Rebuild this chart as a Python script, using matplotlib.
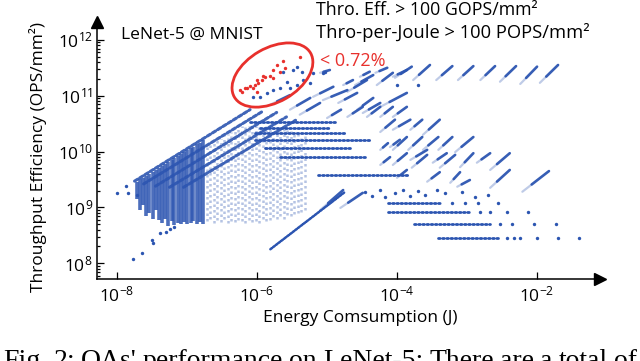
#!/usr/bin/python3
## LeNet-5 @ MNIST : throughput efficiency vs energy of the design points

import matplotlib
matplotlib.use('Agg')
import matplotlib.pyplot as plt
from matplotlib.patches import Ellipse
from matplotlib.transforms import ScaledTranslation

# all values are log10 : energy (J) on x, throughput eff. (OPS/mm2) on y

# dense left cluster, vertical runs of points (x, top, bottom)
darkColX = [-7.72, -7.67, -7.63, -7.58, -7.54, -7.49, -7.45, -7.40, -7.36, -7.31, -7.27,
            -7.22, -7.18, -7.13, -7.09, -7.04, -7.00, -6.95, -6.91, -6.86, -6.82, -6.77]
darkColTop = [9.46, 9.50, 9.53, 9.57, 9.60, 9.64, 9.67, 9.71, 9.74, 9.78, 9.81,
              9.85, 9.88, 9.92, 9.95, 9.99, 10.02, 10.06, 10.09, 10.13, 10.16, 10.20]
darkColBot = [9.15, 8.95, 9.05, 8.85, 8.90, 8.80, 8.95, 8.78, 8.72, 8.80, 8.66,
              8.75, 8.68, 8.72, 8.70, 8.74, 8.70, 8.72, 8.75, 8.70, 8.73, 8.70]

lightColX = [-6.72, -6.67, -6.62, -6.57, -6.52, -6.47, -6.42, -6.37, -6.32, -6.27,
             -6.22, -6.17, -6.12, -6.07, -6.02, -5.97, -5.92, -5.87, -5.82, -5.77,
             -5.72, -5.67, -5.62, -5.57, -5.52, -5.47, -5.42, -5.37, -5.32]
lightColTop = [10.08, 10.12, 10.16, 10.20, 10.23, 10.27, 10.31, 10.35, 10.39, 10.43,
               10.45, 10.45, 10.45, 10.45, 10.45, 10.45, 10.45, 10.45, 10.45, 10.45,
               10.42, 10.40, 10.40, 10.38, 10.36, 10.35, 10.33, 10.30, 10.28]
lightColBot = [8.75, 8.80, 8.72, 8.78, 8.74, 8.80, 8.72, 8.76, 8.73, 8.78,
               8.75, 8.72, 8.78, 8.74, 8.76, 8.72, 8.80, 8.75, 8.78, 8.82,
               8.80, 8.84, 8.80, 8.86, 8.84, 8.88, 8.90, 8.92, 8.95]

# upper edge of the cloud (x0, y0, x1, y1)
edgeLines = [(-7.75, 9.47, -6.10, 10.75),
             (-7.62, 9.42, -5.92, 10.72),
             (-7.45, 9.38, -5.72, 10.70),
             (-7.25, 9.36, -5.58, 10.62),
             (-7.05, 9.36, -5.45, 10.56)]

# diagonal streaks (x0, y0, x1, y1)
streaks = [
    # top band
    (-4.03, 11.32, -3.79, 11.52), (-3.77, 11.28, -3.53, 11.55), (-3.44, 11.28, -3.21, 11.53),
    (-3.13, 11.28, -2.91, 11.53), (-2.81, 11.28, -2.60, 11.53), (-2.53, 11.25, -2.30, 11.53),
    (-2.24, 11.21, -2.00, 11.52), (-1.96, 11.23, -1.70, 11.55),
    # middle, near the red ellipse
    (-5.20, 10.98, -4.91, 11.16), (-5.06, 10.92, -4.71, 11.10), (-4.84, 10.87, -4.57, 11.05),
    (-4.57, 10.75, -4.34, 10.96), (-4.49, 10.69, -4.24, 10.87), (-4.24, 10.80, -3.86, 11.05),
    (-4.71, 11.07, -4.43, 11.28), (-4.60, 11.19, -4.34, 11.37), (-4.29, 11.19, -4.06, 11.41),
    (-4.06, 11.34, -3.86, 11.46), (-4.77, 11.19, -4.63, 11.28), (-4.53, 11.34, -4.39, 11.43),
    (-5.10, 11.41, -4.96, 11.46), (-4.31, 11.41, -4.14, 11.50),
    (-4.71, 10.62, -4.49, 10.80), (-4.43, 10.62, -4.24, 10.80), (-4.24, 10.62, -4.06, 10.80),
    (-4.06, 10.62, -3.86, 10.80),
    (-5.53, 10.75, -5.24, 10.96), (-5.39, 10.66, -5.10, 10.87), (-5.81, 10.84, -5.53, 11.01),
    (-5.00, 10.60, -4.80, 10.75),
    # band around 10^10.4
    (-4.24, 10.35, -4.03, 10.57), (-4.06, 10.39, -3.81, 10.57), (-3.81, 10.39, -3.64, 10.57),
    (-3.63, 10.30, -3.39, 10.57),
    # band around 10^10.1
    (-4.24, 10.03, -4.13, 10.15), (-4.06, 10.03, -3.86, 10.26), (-3.84, 10.03, -3.64, 10.26),
    (-3.63, 10.03, -3.41, 10.26), (-3.41, 10.03, -3.21, 10.26), (-3.17, 9.99, -2.91, 10.26),
    (-4.10, 10.08, -3.96, 10.21),
    # band around 10^9.85
    (-4.24, 9.76, -4.10, 9.90), (-4.06, 9.76, -3.86, 9.97), (-3.79, 9.71, -3.57, 9.94),
    (-3.49, 9.80, -3.29, 9.97), (-3.39, 9.71, -3.17, 9.94), (-3.10, 9.72, -2.91, 9.97),
    (-2.86, 9.80, -2.67, 9.97), (-2.67, 9.67, -2.39, 9.97), (-3.81, 9.85, -3.57, 10.03),
    # band around 10^9.5
    (-4.00, 9.53, -3.86, 9.67), (-3.57, 9.46, -3.39, 9.63), (-3.24, 9.44, -3.10, 9.63),
    (-3.14, 9.37, -2.96, 9.49), (-2.67, 9.35, -2.39, 9.67), (-2.21, 9.28, -1.83, 9.65),
    (-5.10, 8.95, -4.77, 9.31), (-4.81, 8.99, -4.49, 9.26),
]

# long diagonal run at the bottom (x0, y0, x1, y1)
longRun = (-5.81, 8.25, -4.74, 9.28)

# horizontal runs of points (y, x0, x1)
rowRuns = [(10.53, -6.10, -4.89), (10.42, -5.96, -4.96), (10.33, -6.03, -4.74),
           (10.21, -6.03, -4.39), (10.06, -5.89, -4.67), (9.90, -5.67, -4.46),
           (9.58, -5.13, -3.84), (9.08, -4.13, -3.39), (8.92, -4.13, -2.96),
           (8.70, -3.76, -2.67), (8.45, -3.41, -2.53)]

# single points
dotX = [-8.00, -7.84, -7.87, -7.71, -7.77, -7.64, -7.50, -7.49, -7.39, -7.30, -7.24, -7.19,
        -5.63, -5.49, -5.36, -5.57, -5.53, -5.43, -5.34, -5.67, -5.77, -5.86, -5.96, -6.06,
        -5.43, -5.24, -5.20, -5.06, -5.03, -4.00, -3.70,
        -4.46, -4.36, -4.24, -4.17, -4.03, -3.91, -3.81, -3.70, -3.60, -3.43, -3.31, -3.07,
        -2.89, -2.70,
        -3.21, -3.03, -2.84, -2.56,
        -2.81, -2.67, -2.43, -2.13,
        -2.53, -2.36, -2.04, -1.73,
        -2.43, -2.33, -2.24, -2.00, -1.70, -1.40]
dotY = [9.26, 9.26, 9.38, 9.22, 8.08, 8.18, 8.42, 8.36, 8.54, 8.56, 8.61, 8.65,
        11.43, 11.46, 11.43, 11.25, 11.14, 11.19, 11.28, 11.14, 11.10, 11.05, 10.98, 10.98,
        11.52, 11.23, 11.41, 11.41, 11.43, 11.19, 11.19,
        9.28, 9.20, 9.31, 9.19, 9.26, 9.31, 9.20, 9.29, 9.22, 9.31, 9.26, 9.28,
        9.19, 9.22,
        9.08, 9.08, 9.08, 9.08,
        8.92, 8.92, 8.92, 8.92,
        8.70, 8.70, 8.70, 8.70,
        8.45, 8.45, 8.45, 8.45, 8.45, 8.45]

# points meeting both constraints (red)
redX = [-6.24, -6.21, -6.17, -6.14, -6.10, -6.06, -6.03, -6.00, -6.00, -5.99, -5.93,
        -5.91, -5.89, -5.81, -5.77, -5.77, -5.71, -5.67, -5.63, -5.60, -5.39]
redY = [11.10, 11.07, 11.14, 11.14, 11.18, 11.14, 11.19, 11.07, 11.28, 11.23, 11.28,
        11.35, 11.34, 11.35, 11.46, 11.32, 11.55, 11.43, 11.62, 11.50, 11.70]

xTicks = [-8, -6, -4, -2]
yTicks = [8, 9, 10, 11, 12]

BLUE = '#2c55b1'
RED = '#e8302c'


def p(v):
    return 10.0**v
# end of p()


def drawStreak(ax, s):
    x0, y0, x1, y1 = s
    xm = x0 + 0.35*(x1 - x0)
    ym = y0 + 0.35*(y1 - y0)
    ax.plot([p(x0), p(xm)], [p(y0), p(ym)], color=BLUE, lw=1.6, alpha=0.3,
            solid_capstyle='round')
    ax.plot([p(xm), p(x1)], [p(ym), p(y1)], color=BLUE, lw=1.9, alpha=0.95,
            solid_capstyle='round')
# end of drawStreak()


def main():
    plt.rcParams['font.family'] = ['Open Sans', 'DejaVu Sans']
    plt.rcParams['mathtext.fontset'] = 'custom'
    plt.rcParams['mathtext.rm'] = 'Open Sans'
    plt.rcParams['mathtext.it'] = 'Open Sans:italic'
    plt.rcParams['mathtext.bf'] = 'Open Sans:bold'

    fig = plt.figure(figsize=(6.4, 3.61), dpi=100)
    ax = fig.add_axes([0.1516, 0.2271, 0.786, 0.712])
    ax.set_xscale('log')
    ax.set_yscale('log')
    ax.set_xlim(p(-8.286), p(-1.1))
    ax.set_ylim(p(7.717), p(12.32))

    ax.vlines([p(v) for v in lightColX], [p(v) for v in lightColBot],
              [p(v) for v in lightColTop], colors=BLUE, lw=1.8, alpha=0.35,
              linestyles=[(0, (1.0, 1.2))])
    ax.vlines([p(v) for v in darkColX], [p(v) for v in darkColBot],
              [p(v) for v in darkColTop], colors=BLUE, lw=2.6, alpha=0.85)
    for e in edgeLines:
        ax.plot([p(e[0]), p(e[2])], [p(e[1]), p(e[3])], color=BLUE, lw=2.2,
                alpha=0.9, ls=(0, (1.2, 0.8)), dash_capstyle='round')
    for r in rowRuns:
        ax.plot([p(r[1]), p(r[2])], [p(r[0]), p(r[0])], color=BLUE, lw=2.0,
                ls=(0, (0.6, 0.9)), dash_capstyle='round')
    for s in streaks:
        drawStreak(ax, s)
    ax.plot([p(longRun[0]), p(longRun[2])], [p(longRun[1]), p(longRun[3])],
            color=BLUE, lw=1.8, ls=(0, (0.8, 0.6)), dash_capstyle='round')
    ax.scatter([p(v) for v in dotX], [p(v) for v in dotY], s=6, color=BLUE,
               lw=0, zorder=3)
    ax.scatter([p(v) for v in redX], [p(v) for v in redY], s=6, color=RED,
               lw=0, zorder=4)

    # red ellipse round the feasible points
    ell = Ellipse((0, 0), 0.88, 0.54, angle=30, fill=False, ec=RED, lw=2.0,
                  transform=fig.dpi_scale_trans +
                  ScaledTranslation(p(-5.78), p(11.37), ax.transData), zorder=5)
    ax.add_patch(ell)

    # axes with arrow heads
    for side in ['top', 'right']:
        ax.spines[side].set_visible(False)
    for side in ['left', 'bottom']:
        ax.spines[side].set_linewidth(1.1)
    ax.plot(1, 0, '>k', ms=8, transform=ax.transAxes, clip_on=False)
    ax.plot(0, 1, '^k', ms=8, transform=ax.transAxes, clip_on=False)

    ax.set_xticks([p(v) for v in xTicks])
    ax.set_xticklabels([r'$\mathregular{10^{%d}}$' % v for v in xTicks])
    ax.set_yticks([p(v) for v in yTicks])
    ax.set_yticklabels([r'$\mathregular{10^{%d}}$' % v for v in yTicks])
    ax.xaxis.set_minor_locator(matplotlib.ticker.NullLocator())
    ax.tick_params(which='both', direction='in', labelsize=12.5, width=0.9)
    ax.tick_params(axis='x', which='major', length=5, pad=5)
    ax.tick_params(axis='y', which='major', length=5, pad=3)
    ax.tick_params(axis='y', which='minor', length=2.5)

    fig.text(0.059, 0.565, 'Throughput Efficiency (OPS/mm²)', rotation=90,
             ha='center', va='center', fontsize=12.5)
    fig.text(0.5625, 0.119, 'Energy Comsumption (J)', ha='center', va='center',
             fontsize=12.5)

    fig.text(0.189, 0.903, 'LeNet-5 @ MNIST', va='center', fontsize=12.5)
    fig.text(0.494, 0.972, 'Thro. Eff. > 100 GOPS/mm²', va='center', fontsize=12.8)
    fig.text(0.494, 0.909, 'Thro-per-Joule > 100 POPS/mm²', va='center', fontsize=13.2)
    fig.text(0.5, 0.831, '< 0.72%', va='center', fontsize=13, color=RED)

    # caption line, cut by the bottom of the picture, spread over the width
    words = "Fig. 2: QAs' performance on LeNet-5: There are a total of".split()
    fig.canvas.draw()
    rend = fig.canvas.get_renderer()
    txts = [fig.text(0, -0.0194, w, fontsize=20, family='Liberation Serif',
                     va='baseline') for w in words]
    widths = [t.get_window_extent(rend).width for t in txts]
    gap = (637.0 - 3.0 - sum(widths))/(len(words) - 1)
    xpos = 3.0
    for t, w in zip(txts, widths):
        t.set_x(xpos/640.0)
        xpos += w + gap

    fig.savefig('out.png', dpi=100)
# end of main()

if __name__ == '__main__':
    main()
